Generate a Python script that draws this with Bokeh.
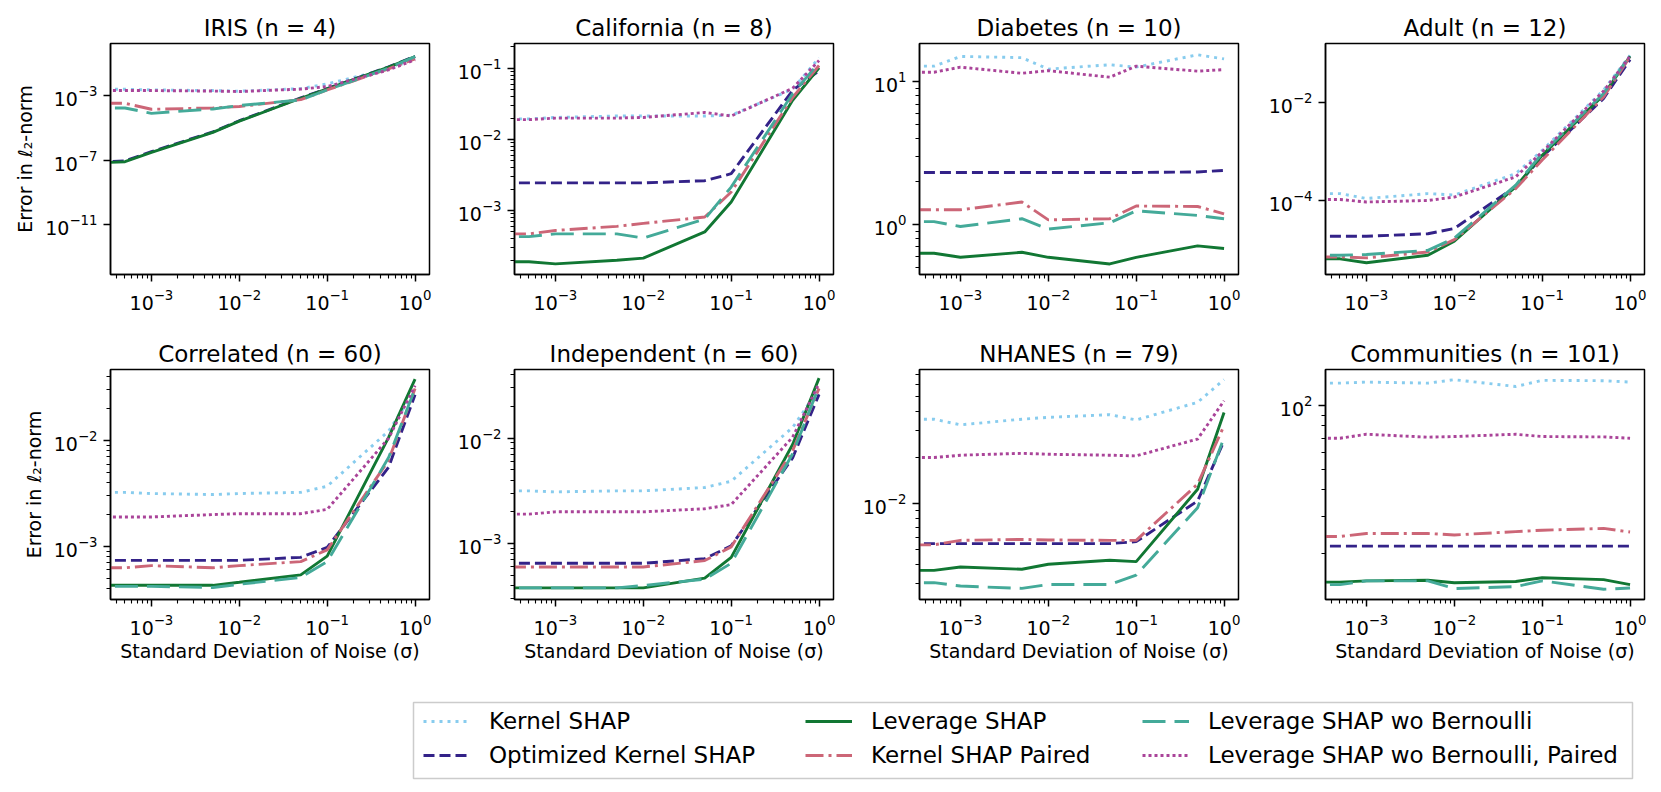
from bokeh.plotting import figure
from bokeh.layouts import row, column
from bokeh.models import FixedTicker, Range1d, Legend, LegendItem, Spacer
from bokeh.embed import file_html
from bokeh.resources import INLINE

# ---------------- data ----------------
SIGMA = [0.0, 5e-4, 1e-3, 5e-3, 1e-2, 5e-2, 1e-1, 5e-1, 1.0]
METHODS = ["Kernel SHAP", "Optimized Kernel SHAP", "Leverage SHAP",
           "Kernel SHAP Paired", "Leverage SHAP wo Bernoulli",
           "Leverage SHAP wo Bernoulli, Paired"]
COLORS = ["#88CCEE", "#332288", "#117733", "#CC6677", "#44AA99", "#AA4499"]
DASHES = ["3 5", "11 5", "solid", "18 5 3 5", "23 9", "3 3"]
TITLES = ["IRIS (n = 4)", "California (n = 8)", "Diabetes (n = 10)", "Adult (n = 12)",
          "Correlated (n = 60)", "Independent (n = 60)", "NHANES (n = 79)",
          "Communities (n = 101)"]
X_TICKS = [1e-3, 1e-2, 1e-1, 1e0]

# rows: methods in METHODS order, columns: SIGMA
IRIS = [
    [2.45e-3, 2.45e-3, 2.24e-3, 2.04e-3, 1.86e-3, 2.69e-3, 5.25e-3, 4.57e-2, 0.19],
    [4e-14, 8.9e-8, 3.3e-7, 5.6e-6, 2.75e-5, 7.1e-4, 2.7e-3, 6.0e-2, 0.275],
    [3e-14, 7.9e-8, 3.0e-7, 5.25e-6, 2.57e-5, 6.8e-4, 2.57e-3, 5.75e-2, 0.263],
    [3.3e-4, 3.3e-4, 1.41e-4, 1.7e-4, 2.1e-4, 5.6e-4, 2.24e-3, 4.57e-2, 0.19],
    [1.7e-4, 1.7e-4, 7.9e-5, 1.48e-4, 2.4e-4, 5.4e-4, 2.24e-3, 5.0e-2, 0.263],
    [2.04e-3, 2.04e-3, 2.04e-3, 1.9e-3, 1.78e-3, 2.5e-3, 3.6e-3, 3.9e-2, 0.166],
]
CALIFORNIA = [
    [1.95e-2, 1.95e-2, 2.04e-2, 2.14e-2, 2.14e-2, 2.14e-2, 2.19e-2, 5.1e-2, 0.141],
    [2.45e-3, 2.45e-3, 2.45e-3, 2.45e-3, 2.45e-3, 2.63e-3, 3.3e-3, 4.9e-2, 9.3e-2],
    [1.9e-4, 1.9e-4, 1.78e-4, 2.0e-4, 2.14e-4, 5.0e-4, 1.32e-3, 3.55e-2, 0.102],
    [4.7e-4, 4.7e-4, 5.25e-4, 6.0e-4, 6.6e-4, 8.1e-4, 1.82e-3, 3.9e-2, 0.11],
    [4.3e-4, 4.3e-4, 4.7e-4, 4.7e-4, 4.1e-4, 7.6e-4, 2.14e-3, 4.4e-2, 0.12],
    [1.9e-2, 1.9e-2, 2.0e-2, 2.0e-2, 2.04e-2, 2.4e-2, 2.14e-2, 5.25e-2, 0.129],
]
DIABETES = [
    [12.9, 12.9, 15.1, 14.8, 12.3, 13.2, 12.7, 15.5, 14.5],
    [2.32, 2.32, 2.32, 2.32, 2.32, 2.32, 2.32, 2.34, 2.40],
    [0.63, 0.63, 0.59, 0.64, 0.59, 0.53, 0.59, 0.71, 0.68],
    [1.27, 1.27, 1.27, 1.44, 1.08, 1.10, 1.35, 1.34, 1.19],
    [1.05, 1.05, 0.97, 1.10, 0.93, 1.03, 1.25, 1.16, 1.10],
    [11.7, 11.7, 12.7, 11.5, 12.0, 10.8, 12.9, 11.9, 12.2],
]
ADULT = [
    [1.41e-4, 1.41e-4, 1.12e-4, 1.41e-4, 1.32e-4, 3.6e-4, 1.07e-3, 1.82e-2, 9.3e-2],
    [1.9e-5, 1.9e-5, 1.9e-5, 2.14e-5, 2.75e-5, 1.95e-4, 7.9e-4, 1.23e-2, 7.6e-2],
    [6.6e-6, 6.6e-6, 5.5e-6, 7.8e-6, 1.51e-5, 1.95e-4, 8.5e-4, 1.45e-2, 8.9e-2],
    [7.2e-6, 7.2e-6, 6.9e-6, 9.1e-6, 1.62e-5, 1.78e-4, 6.8e-4, 1.32e-2, 8.7e-2],
    [7.8e-6, 7.8e-6, 8.1e-6, 9.8e-6, 1.74e-5, 2.1e-4, 9.3e-4, 1.55e-2, 9.3e-2],
    [1.07e-4, 1.07e-4, 9.5e-5, 1.02e-4, 1.2e-4, 3.1e-4, 1.0e-3, 1.74e-2, 8.9e-2],
]
CORRELATED = [
    [3.24e-3, 3.24e-3, 3.16e-3, 3.09e-3, 3.16e-3, 3.24e-3, 3.7e-3, 1.23e-2, 2.95e-2],
    [7.4e-4, 7.4e-4, 7.4e-4, 7.4e-4, 7.4e-4, 7.9e-4, 9.8e-4, 5.6e-3, 2.7e-2],
    [4.3e-4, 4.3e-4, 4.3e-4, 4.3e-4, 4.6e-4, 5.4e-4, 8.1e-4, 1.07e-2, 3.8e-2],
    [6.3e-4, 6.3e-4, 6.6e-4, 6.3e-4, 6.6e-4, 7.2e-4, 9.3e-4, 6.5e-3, 3.1e-2],
    [4.2e-4, 4.2e-4, 4.2e-4, 4.1e-4, 4.4e-4, 5.1e-4, 7.2e-4, 6.9e-3, 3.1e-2],
    [1.9e-3, 1.9e-3, 1.9e-3, 2.0e-3, 2.04e-3, 2.04e-3, 2.24e-3, 1.05e-2, 3.3e-2],
]
INDEPENDENT = [
    [3.16e-3, 3.16e-3, 3.09e-3, 3.16e-3, 3.16e-3, 3.4e-3, 3.9e-3, 1.26e-2, 2.95e-2],
    [6.5e-4, 6.5e-4, 6.5e-4, 6.5e-4, 6.5e-4, 7.2e-4, 9.5e-4, 6.5e-3, 2.6e-2],
    [3.8e-4, 3.8e-4, 3.8e-4, 3.8e-4, 3.8e-4, 4.7e-4, 7.4e-4, 8.7e-3, 3.7e-2],
    [6.0e-4, 6.0e-4, 6.0e-4, 6.0e-4, 6.0e-4, 6.9e-4, 9.3e-4, 7.6e-3, 2.95e-2],
    [3.8e-4, 3.8e-4, 3.8e-4, 3.8e-4, 4.0e-4, 4.6e-4, 6.5e-4, 7.1e-3, 3.1e-2],
    [1.9e-3, 1.9e-3, 2.0e-3, 2.0e-3, 2.0e-3, 2.14e-3, 2.34e-3, 1.02e-2, 3.3e-2],
]
NHANES = [
    [3.56e-2, 3.56e-2, 3.27e-2, 3.56e-2, 3.66e-2, 3.81e-2, 3.52e-2, 4.59e-2, 6.46e-2],
    [5.47e-3, 5.47e-3, 5.47e-3, 5.47e-3, 5.47e-3, 5.47e-3, 5.64e-3, 1.04e-2, 2.57e-2],
    [3.66e-3, 3.66e-3, 3.85e-3, 3.72e-3, 4.01e-3, 4.26e-3, 4.17e-3, 1.24e-2, 3.94e-2],
    [5.37e-3, 5.37e-3, 5.75e-3, 5.83e-3, 5.78e-3, 5.75e-3, 5.75e-3, 1.34e-2, 3.23e-2],
    [3.04e-3, 3.04e-3, 2.89e-3, 2.79e-3, 2.96e-3, 2.96e-3, 3.41e-3, 9.4e-3, 2.7e-2],
    [2.0e-2, 2.0e-2, 2.07e-2, 2.13e-2, 2.1e-2, 2.07e-2, 2.05e-2, 2.64e-2, 4.7e-2],
]
COMMUNITIES = [
    [127.6, 127.6, 129.0, 127.6, 132.4, 123.0, 131.5, 131.0, 129.0],
    [21.6, 21.6, 21.6, 21.6, 21.6, 21.6, 21.6, 21.6, 21.6],
    [14.6, 14.6, 14.8, 14.9, 14.5, 14.7, 15.3, 15.0, 14.2],
    [24.0, 24.0, 24.8, 24.8, 24.4, 25.3, 25.7, 26.2, 25.2],
    [14.2, 14.2, 14.8, 14.8, 13.6, 13.9, 14.8, 13.5, 13.7],
    [70.0, 70.0, 73.1, 70.8, 71.3, 73.1, 71.3, 71.0, 70.0],
]
DATASETS = [IRIS, CALIFORNIA, DIABETES, ADULT, CORRELATED, INDEPENDENT, NHANES, COMMUNITIES]

X_LIM = (3.42e-4, 1.46)
Y_LIMS = [(7.9e-15, 1.7), (1.26e-4, 0.224), (0.447, 18.6), (3.16e-6, 0.162),
          (3.16e-4, 4.68e-2), (2.95e-4, 4.47e-2), (2.36e-3, 7.52e-2), (12.08, 148.0)]
Y_TICKS = [[1e-11, 1e-7, 1e-3], [1e-3, 1e-2, 1e-1], [1e0, 1e1], [1e-4, 1e-2],
           [1e-3, 1e-2], [1e-3, 1e-2], [1e-2], [1e2]]
Y_MINOR_DECADES = [[], [-4, -3, -2, -1], [-1, 0, 1], [], [-4, -3, -2], [-4, -3, -2],
                   [-3, -2], [1, 2]]

FONT = "DejaVu Sans"
CLIP = 1e-30   # log axis: zero noise is clipped to the far left (as matplotlib does)


def minor_list(decades, lo, hi):
    out = []
    for e in decades:
        for k in range(2, 10):
            v = k * 10.0 ** e
            if lo <= v <= hi:
                out.append(v)
    return out


WIDTHS = [431, 404, 405, 401]
LEFTS = [102, 75, 76, 77]
RIGHTS = [10, 10, 10, 5]
ROW_H = [(311, 35, 45), (381, 50, 101)]

figs = []
for i in range(8):
    r, c = divmod(i, 4)
    h, top, bottom = ROW_H[r]
    ylo, yhi = Y_LIMS[i]
    p = figure(width=WIDTHS[c], height=h, x_axis_type="log", y_axis_type="log",
               x_range=Range1d(*X_LIM), y_range=Range1d(ylo, yhi),
               output_backend="svg", toolbar_location=None,
               min_border_left=LEFTS[c], min_border_right=RIGHTS[c],
               min_border_top=top, min_border_bottom=bottom)
    p.title.text = TITLES[i]
    p.title.text_font = FONT
    p.title.text_font_size = "23px"
    p.title.text_font_style = "normal"
    p.title.text_color = "black"
    p.title.align = "center"
    p.title.standoff = 6
    p.outline_line_color = "black"
    p.outline_line_width = 1.5
    p.xgrid.visible = False
    p.ygrid.visible = False
    p.background_fill_color = "white"
    p.border_fill_color = "white"

    xs = [s if s > 0 else CLIP for s in SIGMA]
    for m in range(6):
        p.line(xs, DATASETS[i][m], line_color=COLORS[m], line_width=2.9,
               line_dash=DASHES[m])

    p.xaxis.ticker = FixedTicker(ticks=X_TICKS,
                                 minor_ticks=minor_list([-4, -3, -2, -1, 0], *X_LIM))
    p.yaxis.ticker = FixedTicker(ticks=[t for t in Y_TICKS[i] if ylo <= t <= yhi],
                                 minor_ticks=minor_list(Y_MINOR_DECADES[i], ylo, yhi))
    for ax in (p.xaxis[0], p.yaxis[0]):
        ax.axis_line_color = "black"
        ax.axis_line_width = 1.5
        ax.major_tick_out = 7
        ax.major_tick_in = 0
        ax.minor_tick_out = 4
        ax.minor_tick_in = 0
        ax.major_tick_line_width = 1.5
        ax.minor_tick_line_width = 1.1
        ax.major_tick_line_color = "black"
        ax.minor_tick_line_color = "black"
        ax.major_label_text_font = FONT
        ax.major_label_text_font_size = "19px"
        ax.major_label_text_color = "black"
        ax.axis_label_text_font = FONT
        ax.axis_label_text_font_size = "19px"
        ax.axis_label_text_font_style = "normal"
        ax.axis_label_text_color = "black"
    p.xaxis.major_label_standoff = 7
    p.yaxis.major_label_standoff = 6
    if c == 0:
        p.yaxis.axis_label = "Error in \u2113\u2082-norm"
        p.yaxis.axis_label_standoff = 6
    if r == 1:
        p.xaxis.axis_label = "Standard Deviation of Noise (\u03c3)"
        p.xaxis.axis_label_standoff = 2
    figs.append(p)

# ---------------- legend ----------------
leg = figure(width=1223, height=80, x_range=Range1d(0, 1), y_range=Range1d(0, 1),
             x_axis_type=None, y_axis_type=None, output_backend="svg",
             toolbar_location=None, min_border_left=2, min_border_right=2,
             min_border_top=2, min_border_bottom=2)
leg.outline_line_color = "#cccccc"
leg.outline_line_width = 1.5
leg.background_fill_color = "white"
leg.border_fill_color = "white"
NAN = float("nan")
dummies = [leg.line(x=[NAN], y=[NAN], line_color=COLORS[m], line_width=2.9,
                    line_dash=DASHES[m]) for m in range(6)]
for x0, idxs in [(10, [0, 1]), (392, [2, 3]), (729, [4, 5])]:
    lg = Legend(items=[LegendItem(label=METHODS[k], renderers=[dummies[k]]) for k in idxs],
                location=(x0, 9), orientation="vertical",
                border_line_alpha=0, background_fill_alpha=0,
                label_text_font=FONT, label_text_font_size="23px",
                label_text_color="black",
                glyph_width=47, glyph_height=28, label_height=28,
                label_standoff=19, spacing=6, padding=0, margin=0)
    leg.add_layout(lg)

grid = column(row(*figs[:4]), row(*figs[4:]), row(Spacer(width=403, height=80), leg))
layout = column(Spacer(width=10, height=8), row(Spacer(width=8, height=10), grid))

open("out.html", "w").write(file_html(layout, INLINE))
